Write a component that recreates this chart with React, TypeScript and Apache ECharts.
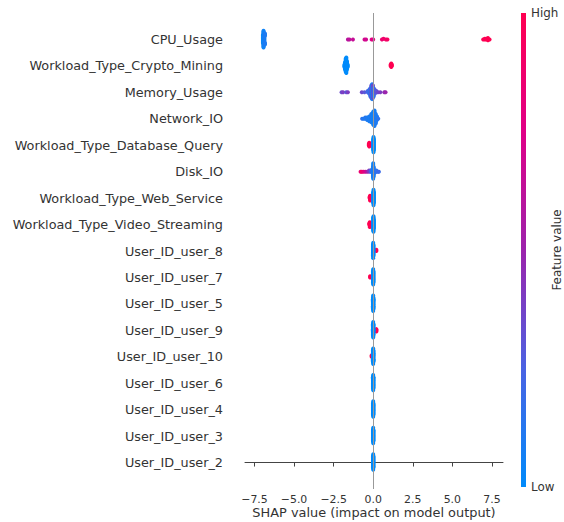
import React, { useEffect, useRef } from "react";
import * as echarts from "echarts";

// Feature names, top row first
const features = [
  "CPU_Usage",
  "Workload_Type_Crypto_Mining",
  "Memory_Usage",
  "Network_IO",
  "Workload_Type_Database_Query",
  "Disk_IO",
  "Workload_Type_Web_Service",
  "Workload_Type_Video_Streaming",
  "User_ID_user_8",
  "User_ID_user_7",
  "User_ID_user_5",
  "User_ID_user_9",
  "User_ID_user_10",
  "User_ID_user_6",
  "User_ID_user_4",
  "User_ID_user_3",
  "User_ID_user_2",
];

// [SHAP value, normalised feature value, number of samples]
type Group = [number, number, number];

const cpuUsage: Group[] = [
  [-6.97, 0.02, 12], [-6.93, 0.05, 12], [-6.88, 0.08, 9], [-6.84, 0.1, 7],
  [-1.6, 0.6, 1], [-1.5, 0.62, 1], [-1.28, 0.65, 1], [-0.55, 0.7, 1], [-0.45, 0.7, 1],
  [-0.1, 0.75, 1], [0.0, 0.78, 1], [0.55, 0.85, 1], [0.65, 0.88, 1], [0.8, 0.9, 1], [0.9, 0.92, 1],
  [6.95, 0.97, 1], [7.05, 1, 2], [7.15, 0.98, 2], [7.25, 1, 2], [7.35, 1, 1],
];
const cryptoMining: Group[] = [
  [-1.82, 0, 3], [-1.78, 0, 7], [-1.74, 0, 12], [-1.7, 0, 14], [-1.66, 0, 8], [-1.61, 0, 3],
  [1.1, 1, 2], [1.14, 1, 4], [1.18, 1, 2],
];
const memoryUsage: Group[] = [
  [-2.0, 0.35, 1], [-1.9, 0.4, 1], [-1.7, 0.3, 1], [-1.6, 0.4, 1], [-0.72, 0.35, 1], [-0.55, 0.3, 1],
  [-0.35, 0.2, 2], [-0.25, 0.25, 4], [-0.18, 0.12, 7], [-0.12, 0.3, 10], [-0.07, 0.1, 12],
  [-0.02, 0.35, 10], [0.03, 0.15, 7], [0.1, 0.25, 4], [0.2, 0.3, 2], [0.3, 0.35, 1],
  [0.45, 0.4, 1], [0.7, 0.45, 1], [0.78, 0.5, 1],
];
const networkIO: Group[] = [
  [-0.7, 0.15, 1], [-0.6, 0.1, 1], [-0.5, 0.12, 2], [-0.38, 0.1, 3], [-0.25, 0.08, 5],
  [-0.12, 0.1, 8], [0.0, 0.05, 12], [0.08, 0.08, 14], [0.16, 0.1, 9], [0.24, 0.1, 4], [0.32, 0.15, 1],
];
const databaseQuery: Group[] = [
  [-0.28, 1, 2], [-0.25, 1, 4], [-0.22, 1, 2],
  [0.0, 0, 10], [0.02, 0, 14], [0.04, 0, 10],
];
const diskIO: Group[] = [
  [-0.8, 0.85, 1], [-0.72, 0.9, 1], [-0.62, 0.8, 1], [-0.5, 0.7, 1], [-0.38, 0.55, 1],
  [-0.26, 0.4, 2], [-0.15, 0.25, 2], [-0.06, 0.15, 4], [-0.02, 0.1, 9], [0.0, 0.05, 14],
  [0.03, 0.08, 9], [0.1, 0.12, 3], [0.2, 0.15, 2], [0.3, 0.2, 1], [0.36, 0.2, 1],
];
const webService: Group[] = [
  [-0.23, 1, 2], [-0.2, 1, 5], [-0.17, 1, 2],
  [0.0, 0, 10], [0.02, 0, 14], [0.04, 0, 10],
];
const videoStreaming: Group[] = [
  [-0.25, 1, 2], [-0.22, 1, 5], [-0.19, 1, 2],
  [0.0, 0, 12], [0.02, 0, 14], [0.04, 0, 8],
];
const user8: Group[] = [[0.2, 1, 2], [-0.02, 0, 10], [0.0, 0, 14], [0.02, 0, 10]];
const user7: Group[] = [[-0.2, 1, 2], [-0.02, 0, 10], [0.0, 0, 14], [0.02, 0, 10]];
const user5: Group[] = [[-0.02, 0, 10], [0.0, 0, 14], [0.02, 0, 10]];
const user9: Group[] = [[0.2, 1, 3], [-0.02, 0, 10], [0.0, 0, 14], [0.02, 0, 10]];
const user10: Group[] = [[-0.1, 1, 2], [-0.02, 0, 10], [0.0, 0, 14], [0.02, 0, 10]];
const user6: Group[] = [[-0.02, 0, 10], [0.0, 0, 14], [0.02, 0, 10]];
const user4: Group[] = [[-0.02, 0, 10], [0.0, 0, 14], [0.02, 0, 10]];
const user3: Group[] = [[-0.02, 0, 10], [0.0, 0, 14], [0.02, 0, 10]];
const user2: Group[] = [[-0.02, 0, 10], [0.0, 0, 14], [0.02, 0, 10]];

const rows: Group[][] = [
  cpuUsage, cryptoMining, memoryUsage, networkIO, databaseQuery, diskIO, webService,
  videoStreaming, user8, user7, user5, user9, user10, user6, user4, user3, user2,
];

const xTicks = [-7.5, -5, -2.5, 0, 2.5, 5, 7.5];

const colorStops = ["#008bfb", "#4b63e3", "#9c23ac", "#e00087", "#ff0051"];

// shap-style beeswarm: bin values, stack points alternately up/down within a bin
function swarm(groups: Group[], pos: number): number[][] {
  const pts: { x: number; f: number }[] = [];
  groups.forEach(([x, f, n]) => {
    for (let k = 0; k < n; k++) pts.push({ x, f });
  });
  const xs = pts.map((p) => p.x);
  const lo = Math.min(...xs);
  const hi = Math.max(...xs);
  const nbins = 100;
  const quant = pts.map((p) => Math.round((nbins * (p.x - lo)) / (hi - lo + 1e-8)));
  const order = pts.map((_, i) => i).sort((a, b) => quant[a] - quant[b] || a - b);
  const ys = new Array(pts.length).fill(0);
  let layer = 0;
  let last = -1;
  for (const i of order) {
    if (quant[i] !== last) layer = 0;
    ys[i] = Math.ceil(layer / 2) * ((layer % 2) * 2 - 1);
    layer++;
    last = quant[i];
  }
  const m = Math.max(...ys.map((y) => y + 1));
  const s = 0.9 * (0.4 / m);
  return pts.map((p, i) => [p.x, pos + ys[i] * s, p.f]);
}

const FONT = "DejaVu Sans";

export default function App() {
  const ref = useRef<HTMLDivElement>(null);
  useEffect(() => {
    if (!ref.current) return;
    const chart = echarts.init(ref.current, undefined, { renderer: "svg" });
    const n = features.length;
    const points: number[][] = [];
    rows.forEach((g, i) => {
      points.push(...swarm(g, n - 1 - i));
    });
    const fmt = (v: number) => v.toFixed(1).replace("-", "\u2212");
    chart.setOption({
      animation: false,
      backgroundColor: "#ffffff",
      textStyle: { fontFamily: FONT },
      grid: {
        left: 245,
        top: 13,
        width: 258,
        height: 476,
        containLabel: false,
        outerBoundsMode: "none",
      },
      xAxis: {
        type: "value",
        min: -8.1,
        max: 8.2,
        name: "SHAP value (impact on model output)",
        nameLocation: "middle",
        nameGap: 16,
        nameMoveOverlap: false,
        nameTextStyle: { fontFamily: FONT, fontSize: 12.9, color: "#333333", lineHeight: 14 },
        axisLine: { show: true, lineStyle: { color: "#444444", width: 1 } },
        axisTick: { show: true, customValues: xTicks, length: 4, lineStyle: { color: "#444444" } },
        axisLabel: {
          customValues: xTicks,
          formatter: (v: number) => fmt(v),
          fontFamily: FONT,
          fontSize: 10.9,
          color: "#333333",
          margin: 5,
        },
        splitLine: { show: false },
      },
      yAxis: {
        type: "value",
        min: -1,
        max: n,
        interval: 1,
        axisLine: { show: false },
        axisTick: { show: false },
        splitLine: { show: false },
        axisLabel: {
          formatter: (v: number) => {
            const idx = n - 1 - Math.round(v);
            return idx >= 0 && idx < n ? features[idx] : "";
          },
          fontFamily: FONT,
          fontSize: 12.8,
          color: "#333333",
          margin: 22,
        },
      },
      visualMap: {
        type: "continuous",
        min: 0,
        max: 1,
        dimension: 2,
        seriesIndex: 1,
        show: false,
        inRange: { color: colorStops },
      },
      graphic: [
        {
          type: "rect",
          left: 521,
          top: 13,
          shape: { width: 5, height: 474 },
          style: {
            fill: new echarts.graphic.LinearGradient(
              0, 1, 0, 0,
              colorStops.map((c, i) => ({ offset: i / (colorStops.length - 1), color: c }))
            ),
          },
        },
        { type: "text", left: 531, top: 7, style: { text: "High", font: `11.9px "${FONT}"`, fill: "#333333" } },
        { type: "text", left: 531, top: 481, style: { text: "Low", font: `11.9px "${FONT}"`, fill: "#333333" } },
        {
          type: "text",
          x: 557,
          y: 250,
          rotation: Math.PI / 2,
          style: {
            text: "Feature value",
            font: `11.9px "${FONT}"`,
            fill: "#333333",
            align: "center",
            verticalAlign: "middle",
          },
        },
      ],
      series: [
        {
          type: "line",
          data: [],
          z: 1,
          silent: true,
          markLine: {
            silent: true,
            symbol: "none",
            label: { show: false },
            lineStyle: { color: "#999999", width: 1, type: "solid" },
            data: [{ xAxis: 0 }],
          },
        },
        {
          type: "scatter",
          z: 3,
          symbolSize: 4,
          itemStyle: { opacity: 1 },
          data: points,
        },
      ],
    });
    return () => chart.dispose();
  }, []);
  return (
    <div
      ref={ref}
      style={{ position: "absolute", left: 0, top: 0, width: 564, height: 522 }}
    />
  );
}
